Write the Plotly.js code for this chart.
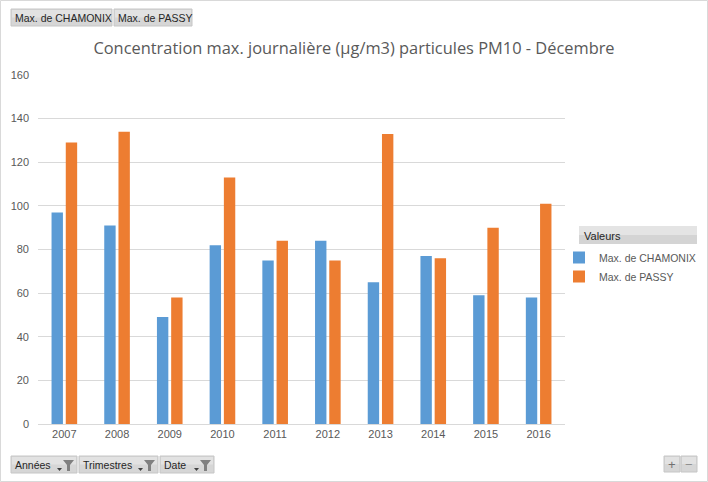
<!DOCTYPE html>
<html>
<head>
<meta charset="utf-8">
<script src="https://cdn.plot.ly/plotly-3.0.1.min.js"></script>
<style>html,body{margin:0;padding:0;background:#fff;overflow:hidden;}#chart{width:708px;height:482px;}</style>
</head>
<body>
<div id="chart"></div>
<script>
const years = ['2007','2008','2009','2010','2011','2012','2013','2014','2015','2016'];
const chamonix = [97, 91, 49, 82, 75, 84, 65, 77, 59, 58];
const passy = [129, 134, 58, 113, 84, 75, 133, 76, 90, 101];
const seriesNames = ['Max. de CHAMONIX', 'Max. de PASSY'];
const titleText = 'Concentration max. journalière (µg/m3) particules PM10 - Décembre';
const topButtons = ['Max. de CHAMONIX', 'Max. de PASSY'];
const bottomButtons = ['Années', 'Trimestres', 'Date'];

const W = 708, H = 482, L = 38, R = 565, T = 75, B = 424;
const px = x => (x - L) / (R - L);
const py = y => (B - y) / (B - T);

const shapes = [];
const annotations = [];

// outer border
shapes.push({type:'rect', xref:'paper', yref:'paper', x0:px(0.5), x1:px(707.5), y0:py(481.5), y1:py(0.5),
  line:{color:'#d9d9d9', width:1}, fillcolor:'rgba(0,0,0,0)', layer:'below'});

function button(x0, x1, y0, y1, label, funnel) {
  shapes.push({type:'rect', xref:'paper', yref:'paper', x0:px(x0), x1:px(x1), y0:py(y1), y1:py(y0),
    line:{color:'#c6c6c6', width:1}, fillcolor:'#d6d6d6'});
  shapes.push({type:'rect', xref:'paper', yref:'paper', x0:px(x0+1), x1:px(x1-1), y0:py((y0+y1)/2), y1:py(y0+1),
    line:{width:0}, fillcolor:'#e2e2e2'});
  if (label) {
    annotations.push({xref:'paper', yref:'paper', x:px(x0+2), y:py((y0+y1)/2+0.5), xanchor:'left', yanchor:'middle',
      text:label, showarrow:false, font:{family:'Liberation Sans, Arial, sans-serif', size:10.5, color:'#262626'}});
  }
  if (funnel) {
    const fx = x1 - 13, fy = y0 + 4;
    shapes.push({type:'path', xref:'paper', yref:'paper',
      path:`M ${px(fx-7)} ${py(fy+8)} L ${px(fx-2)} ${py(fy+8)} L ${px(fx-4.5)} ${py(fy+11)} Z`,
      fillcolor:'#404040', line:{width:0}});
    shapes.push({type:'path', xref:'paper', yref:'paper',
      path:`M ${px(fx-1)} ${py(fy)} L ${px(fx+10)} ${py(fy)} L ${px(fx+6)} ${py(fy+5)} L ${px(fx+6)} ${py(fy+11)} L ${px(fx+3)} ${py(fy+11)} L ${px(fx+3)} ${py(fy+5)} Z`,
      fillcolor:'#808080', line:{width:0}});
  }
}

button(11, 112, 9, 26, topButtons[0], false);
button(114, 192, 9, 26, topButtons[1], false);
button(11, 77, 456, 473, bottomButtons[0], true);
button(79, 158, 456, 473, bottomButtons[1], true);
button(160, 214, 456, 473, bottomButtons[2], true);
button(664, 680, 456, 472, '', false);
button(681, 697, 456, 472, '', false);
annotations.push({xref:'paper', yref:'paper', x:px(672), y:py(464), text:'+', showarrow:false,
  font:{family:'Liberation Sans, Arial', size:13, color:'#707070'}, xanchor:'center', yanchor:'middle'});
annotations.push({xref:'paper', yref:'paper', x:px(689), y:py(464), text:'−', showarrow:false,
  font:{family:'Liberation Sans, Arial', size:13, color:'#909090'}, xanchor:'center', yanchor:'middle'});

// legend header
shapes.push({type:'rect', xref:'paper', yref:'paper', x0:px(579), x1:px(697), y0:py(244), y1:py(226),
  line:{width:0}, fillcolor:'#d4d4d4'});
shapes.push({type:'rect', xref:'paper', yref:'paper', x0:px(579), x1:px(697), y0:py(235), y1:py(226),
  line:{width:0}, fillcolor:'#e4e4e4'});
annotations.push({xref:'paper', yref:'paper', x:px(582), y:py(235.5), xanchor:'left', yanchor:'middle',
  text:'Valeurs', showarrow:false, font:{family:'Liberation Sans, Arial', size:11, color:'#262626'}});

const data = [
  {type:'bar', x:years, y:chamonix, name:seriesNames[0], marker:{color:'#5b9bd5'}},
  {type:'bar', x:years, y:passy, name:seriesNames[1], marker:{color:'#ed7d31'}}
];

const layout = {
  width: W, height: H,
  margin: {l: L, r: W - R, t: T, b: H - B, pad: 0, autoexpand: false},
  paper_bgcolor: '#ffffff', plot_bgcolor: '#ffffff',
  barmode: 'group', bargap: 0.46, bargroupgap: 0.2,
  title: {text: titleText, x: 0.5, xref: 'container', xanchor: 'center', y: 1 - 48/482, yref: 'container', yanchor: 'middle',
    font: {family: 'Open Sans, Noto Sans, sans-serif', size: 16.4, color: '#595959'}},
  xaxis: {type: 'category', tickfont: {family: 'Liberation Sans, Arial', size: 11, color: '#595959'},
    showgrid: false, showline: true, linecolor: '#d9d9d9', linewidth: 1, ticks: '', zeroline: false},
  yaxis: {range: [0, 160], dtick: 20, tickfont: {family: 'Liberation Sans, Arial', size: 11, color: '#595959'},
    showgrid: true, gridcolor: '#d9d9d9', gridwidth: 1, zeroline: false, showline: false, ticks: '',
    ticklabelstandoff: 8},
  showlegend: true,
  legend: {x: px(559), y: py(243), xanchor: 'left', yanchor: 'top', xref: 'paper', yref: 'paper',
    font: {family: 'Liberation Sans, Arial', size: 10.5, color: '#595959'}, bgcolor: 'rgba(0,0,0,0)',
    itemwidth: 30},
  shapes: shapes,
  annotations: annotations
};

Plotly.newPlot('chart', data, layout, {displayModeBar: false, staticPlot: true});
</script>
</body>
</html>
